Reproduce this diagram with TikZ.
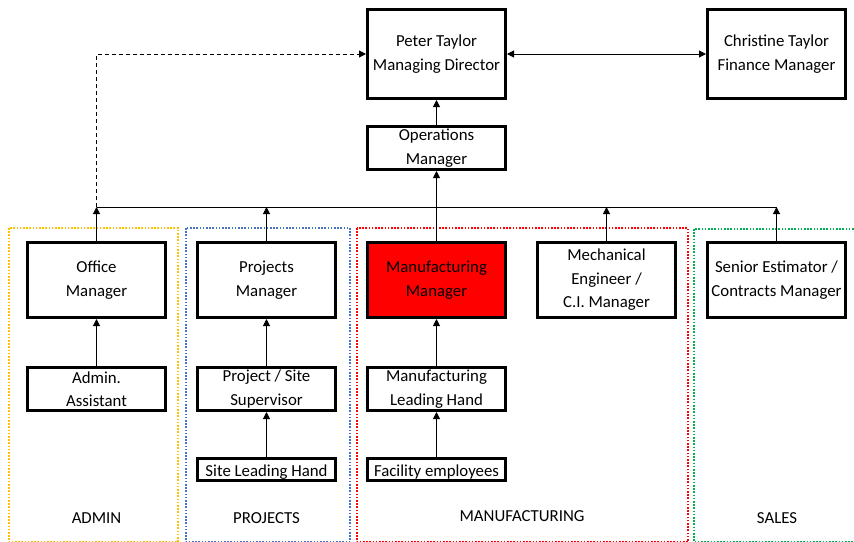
\documentclass[tikz,border=0pt]{standalone}
\usepackage{fontspec}
\setmainfont{Carlito}
\usetikzlibrary{arrows.meta}
\definecolor{cyellow}{HTML}{FFC000}
\definecolor{cblue}{HTML}{4472C4}
\definecolor{cred}{HTML}{FF0000}
\definecolor{cgreen}{HTML}{00B050}
\begin{document}
\begin{tikzpicture}[x=1pt,y=-1pt,
  every node/.style={font=\fontsize{16.8}{23.5}\selectfont},
  box/.style={draw=black, line width=3.2pt, inner sep=0pt, align=center, minimum width=137.8pt, execute at begin node={\rule{0pt}{17pt}}},
  big/.style={box, minimum height=88.8pt},
  mid/.style={box, minimum height=74.8pt},
  small/.style={box, minimum height=42.8pt},
  tiny/.style={box, minimum height=21.8pt},
  conn/.style={line width=1pt, -{Triangle[length=7pt,width=7pt]}},
  dept/.style={line width=2pt, dash pattern=on 1.6pt off 1.6pt},
  lbl/.style={inner sep=0pt}
]
\useasboundingbox[fill=white] (0,0) rectangle (854,541);

% department areas
\draw[dept, cyellow] (9,228) rectangle (178,542);
\draw[dept, cblue] (186,228) rectangle (350,542);
\draw[dept, cred] (357,228) rectangle (688,542);
\draw[dept, cgreen] (694,229) rectangle (856,542);

% nodes
\node[big] (peter) at (436.5,54) {Peter Taylor\\Managing Director};
\node[big] (christine) at (776.5,54) {Christine Taylor\\Finance Manager};
\node[small] (ops) at (436.5,148) {Operations\\Manager};

\node[mid] (office) at (96.5,280) {Office\\Manager};
\node[mid] (projects) at (266.5,280) {Projects\\Manager};
\node[mid, fill=cred] (manu) at (436.5,280) {Manufacturing\\Manager};
\node[mid] (mech) at (606.5,280) {Mechanical\\Engineer /\\C.I. Manager};
\node[mid] (senior) at (776.5,280) {Senior Estimator /\\Contracts Manager};

\node[small] (admin) at (96.5,389) {Admin.\\Assistant};
\node[small] (super) at (266.5,389) {Project / Site\\Supervisor};
\node[small] (mlead) at (436.5,389) {Manufacturing\\Leading Hand};

\node[tiny] (site) at (266.5,469.5) {Site Leading Hand};
\node[tiny] (fac) at (436.5,469.5) {Facility employees};

\node[lbl] (ladmin) at (96.5,518) {ADMIN};
\node[lbl] (lproj) at (266.5,518) {PROJECTS};
\node[lbl] (lmanu) at (522,516) {MANUFACTURING};
\node[lbl] (lsales) at (777,518) {SALES};

% bus coordinates
\coordinate (bO) at (office.north |- 0,207);
\coordinate (bP) at (projects.north |- 0,207);
\coordinate (bM) at (mech.north |- 0,207);
\coordinate (bS) at (senior.north |- 0,207);

\draw[line width=1pt] (bO) -- (bS);
\draw[conn] (office.north) -- (bO);
\draw[conn] (projects.north) -- (bP);
\draw[conn] (mech.north) -- (bM);
\draw[conn] (senior.north) -- (bS);

\draw[conn] (manu.north) -- (ops.south);
\draw[conn] (ops.north) -- (peter.south);
\draw[conn, dash pattern=on 4pt off 3pt] (bO) |- (peter.west);
\draw[line width=1pt, {Triangle[length=7pt,width=7pt]}-{Triangle[length=7pt,width=7pt]}] (peter.east) -- (christine.west);

\draw[conn] (admin.north) -- (office.south);
\draw[conn] (super.north) -- (projects.south);
\draw[conn] (site.north) -- (super.south);
\draw[conn] (mlead.north) -- (manu.south);
\draw[conn] (fac.north) -- (mlead.south);
\end{tikzpicture}
\end{document}
